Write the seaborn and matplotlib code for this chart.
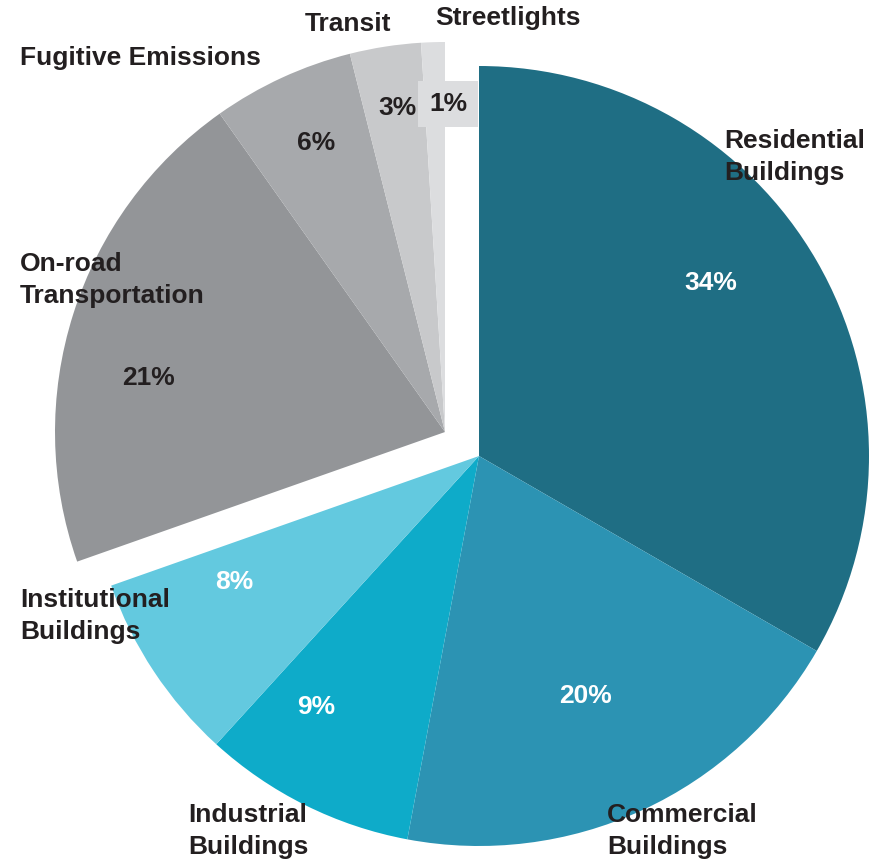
import matplotlib.pyplot as plt
import seaborn as sns

categories = ["Residential\nBuildings", "Commercial\nBuildings", "Industrial\nBuildings",
              "Institutional\nBuildings", "On-road\nTransportation", "Fugitive Emissions",
              "Transit", "Streetlights"]
shares = [34, 20, 9, 8, 21, 6, 3, 1]
pct_labels = ["34%", "20%", "9%", "8%", "21%", "6%", "3%", "1%"]
n_buildings = 4  # first four slices form the attached group, the rest is pulled out

colors = ["#1f6e84", "#2c93b3", "#0eabc9", "#63c9df",
          "#939598", "#a7a9ac", "#c8c9cb", "#dcdddf"]
pct_colors = ["white"] * 4 + ["#231f20"] * 4

# text placement in image pixels (x from left, y from top)
name_pos = [(724, 157), (607, 831), (188, 831), (20, 616),
            (20, 280), (20, 58), (305, 24), (435, 18)]
pct_pos = [(711, 283), (585, 696), (316, 707), (234, 582),
           (148, 378), (316, 143), (397, 108), (448, 104)]

W, H = 886, 864
CX, CY, R = 479, 456, 390  # pie centre and radius in pixels


def px(x, y):
    return (x - CX) / R, (CY - y) / R


sns.set_style("white")
plt.rcParams["font.family"] = ["Liberation Sans", "DejaVu Sans"]

fig = plt.figure(figsize=(W / 100, H / 100), dpi=100)
ax = fig.add_axes([0, 0, 1, 1])

total = sum(shares)
fracs = [s / total for s in shares]
wedge_kw = dict(linewidth=0)

ax.pie(fracs[:n_buildings], colors=colors[:n_buildings], startangle=90,
       counterclock=False, normalize=False, radius=1, center=(0, 0),
       wedgeprops=wedge_kw)

other_start = 90 - 360 * sum(fracs[:n_buildings])
ax.pie(fracs[n_buildings:], colors=colors[n_buildings:], startangle=other_start,
       counterclock=False, normalize=False, radius=1, center=px(445, 432),
       wedgeprops=wedge_kw)

ax.set_xlim(-CX / R, (W - CX) / R)
ax.set_ylim(-(H - CY) / R, CY / R)
ax.set_aspect("equal")
ax.axis("off")

for name, (x, y) in zip(categories, name_pos):
    ax.text(*px(x, y), name, ha="left", va="center", fontsize=19,
            fontweight="bold", color="#231f20", linespacing=1.45)

for i, (lab, (x, y)) in enumerate(zip(pct_labels, pct_pos)):
    kw = {}
    if lab == "1%":
        kw["bbox"] = dict(boxstyle="square,pad=0.4", fc=colors[i], ec="none")
    ax.text(*px(x, y), lab, ha="center", va="center", fontsize=19,
            fontweight="bold", color=pct_colors[i], **kw)

plt.savefig("out.png", dpi=100)
